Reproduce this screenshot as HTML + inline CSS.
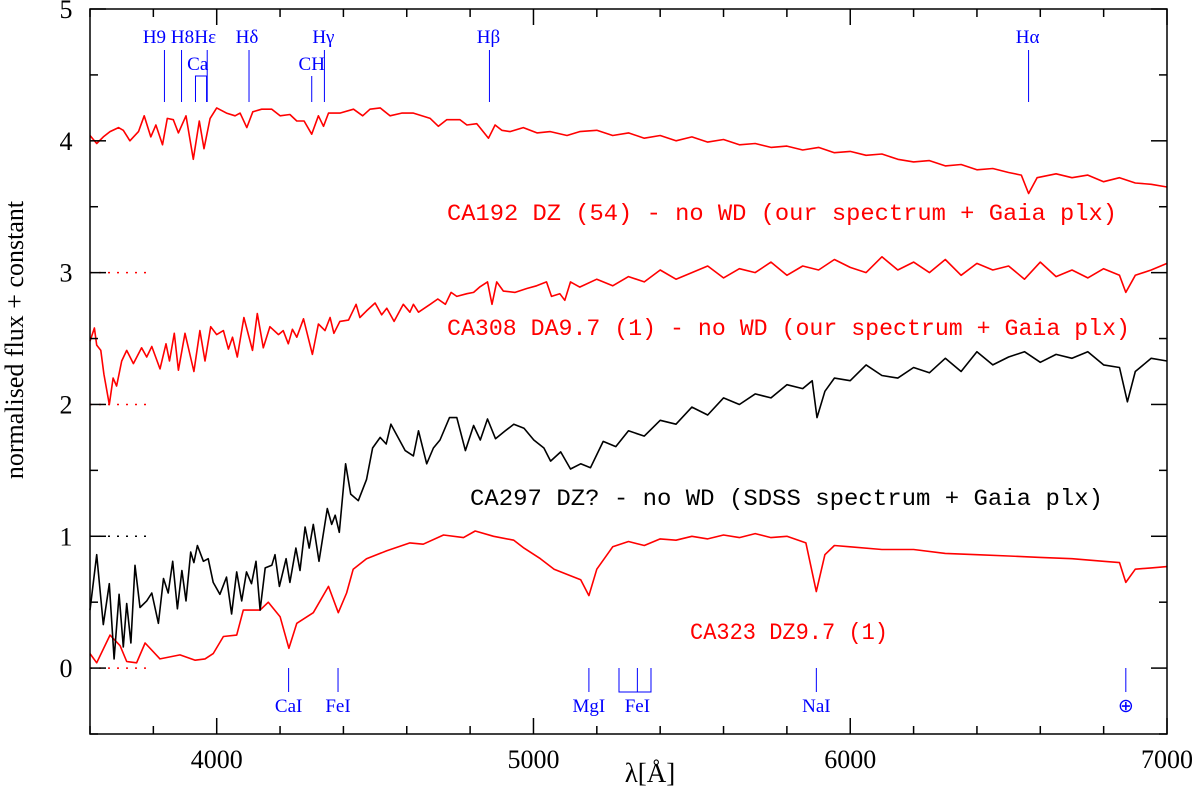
<!DOCTYPE html>
<html><head><meta charset="utf-8"><style>
body{margin:0;background:#fff}
svg{display:block}
text{font-family:"Liberation Serif",serif}
.m{font-family:"Liberation Mono",monospace}
</style></head><body>
<svg id="c" width="1200" height="790" xmlns="http://www.w3.org/2000/svg">
</svg>
<script>
const lamA=[3600,3614,3621,3634,3644,3661,3673,3684,3700,3716,3737,3763,3779,3795,3821,3840,3851,3866,3879,3900,3928,3947,3963,3981,4000,4021,4037,4050,4065,4086,4113,4128,4147,4168,4195,4210,4226,4239,4253,4274,4302,4321,4342,4358,4370,4389,4416,4440,4452,4473,4500,4521,4537,4560,4589,4610,4621,4637,4674,4698,4722,4740,4758,4790,4811,4830,4855,4869,4884,4905,4942,4979,5010,5041,5057,5083,5099,5117,5146,5200,5250,5300,5350,5400,5450,5500,5550,5600,5650,5700,5750,5800,5850,5900,5950,6000,6050,6100,6150,6200,6250,6300,6350,6400,6450,6500,6550,6600,6650,6700,6750,6800,6850,6870,6900,6950,7000];
const ca308=[2.48,2.58,2.45,2.41,2.23,2.0,2.2,2.14,2.33,2.41,2.31,2.43,2.36,2.44,2.27,2.46,2.33,2.54,2.26,2.54,2.25,2.56,2.33,2.59,2.53,2.56,2.42,2.51,2.36,2.66,2.41,2.69,2.43,2.59,2.53,2.56,2.46,2.57,2.51,2.65,2.38,2.61,2.56,2.66,2.54,2.63,2.64,2.76,2.66,2.71,2.77,2.68,2.73,2.63,2.76,2.70,2.76,2.70,2.76,2.80,2.76,2.85,2.82,2.84,2.85,2.89,2.93,2.76,2.93,2.86,2.85,2.88,2.90,2.93,2.82,2.84,2.79,2.93,2.89,2.95,2.90,2.97,2.93,3.02,2.95,3.00,3.05,2.96,3.03,3.00,3.08,2.98,3.05,3.02,3.10,3.04,3.00,3.12,3.02,3.08,3.00,3.10,2.98,3.07,3.02,3.05,2.95,3.08,2.97,3.02,2.96,3.03,2.98,2.85,2.98,3.02,3.07];
const lamB=[3600,3621,3642,3663,3690,3705,3726,3753,3771,3792,3808,3829,3844,3863,3879,3903,3926,3945,3960,3979,4000,4031,4058,4074,4095,4114,4142,4174,4200,4231,4253,4276,4300,4321,4337,4353,4389,4432,4461,4484,4516,4547,4584,4621,4674,4700,4726,4768,4790,4821,4858,4879,4900,4926,4968,5011,5053,5106,5146,5200,5250,5300,5350,5400,5450,5500,5550,5600,5650,5700,5750,5800,5850,5900,5950,6000,6050,6100,6150,6200,6250,6300,6350,6400,6450,6500,6540,6563,6590,6650,6700,6750,6800,6850,6900,6950,7000];
const ca192=[4.04,3.98,4.03,4.07,4.10,4.08,4.00,4.07,4.19,4.03,4.12,3.97,4.17,4.16,4.06,4.19,3.86,4.15,3.94,4.17,4.25,4.21,4.19,4.21,4.10,4.22,4.24,4.24,4.19,4.20,4.15,4.15,4.05,4.19,4.11,4.21,4.21,4.24,4.19,4.24,4.25,4.19,4.21,4.21,4.17,4.11,4.16,4.16,4.12,4.13,4.02,4.12,4.08,4.07,4.10,4.06,4.07,4.04,4.07,4.08,4.04,4.06,4.02,4.04,4.00,4.03,3.99,4.01,3.97,3.98,3.95,3.96,3.93,3.95,3.91,3.92,3.89,3.90,3.86,3.84,3.85,3.81,3.82,3.78,3.79,3.76,3.74,3.60,3.72,3.75,3.72,3.74,3.69,3.72,3.68,3.67,3.65];
const lamC=[3600,3621,3642,3661,3676,3692,3705,3716,3729,3742,3758,3779,3795,3816,3832,3847,3861,3876,3890,3903,3918,3928,3939,3958,3973,3989,4010,4031,4047,4063,4079,4094,4110,4124,4137,4153,4174,4184,4198,4219,4231,4250,4263,4279,4292,4305,4323,4349,4363,4374,4387,4407,4423,4447,4473,4492,4516,4535,4550,4568,4595,4621,4637,4663,4684,4705,4735,4758,4785,4811,4832,4855,4880,4911,4938,4970,5001,5033,5054,5086,5117,5149,5180,5220,5260,5300,5350,5400,5450,5500,5550,5600,5650,5700,5750,5800,5850,5880,5895,5920,5950,6000,6050,6100,6150,6200,6250,6300,6350,6400,6450,6500,6550,6600,6650,6700,6750,6800,6850,6875,6900,6950,7000];
const ca297=[0.44,0.86,0.33,0.64,0.07,0.56,0.16,0.49,0.19,0.78,0.46,0.51,0.57,0.34,0.68,0.57,0.81,0.45,0.74,0.51,0.88,0.80,0.93,0.81,0.83,0.65,0.56,0.69,0.41,0.73,0.51,0.73,0.64,0.81,0.44,0.76,0.78,0.86,0.62,0.83,0.65,0.91,0.74,1.07,0.91,1.09,0.81,1.21,1.09,1.16,1.03,1.55,1.32,1.27,1.43,1.67,1.75,1.70,1.85,1.77,1.65,1.61,1.80,1.55,1.67,1.73,1.90,1.90,1.65,1.84,1.73,1.89,1.74,1.80,1.85,1.82,1.73,1.67,1.57,1.64,1.51,1.55,1.52,1.72,1.68,1.80,1.76,1.88,1.85,1.98,1.92,2.05,2.00,2.08,2.05,2.15,2.12,2.18,1.90,2.10,2.20,2.18,2.30,2.22,2.20,2.28,2.24,2.35,2.25,2.40,2.30,2.36,2.40,2.32,2.38,2.35,2.40,2.30,2.28,2.02,2.25,2.35,2.33];
const lamD=[3600,3621,3663,3695,3716,3747,3774,3821,3884,3932,3963,3989,4021,4063,4084,4137,4163,4200,4228,4253,4305,4353,4384,4410,4431,4473,4537,4610,4652,4716,4779,4816,4874,4938,4970,5022,5065,5117,5149,5175,5200,5250,5300,5350,5400,5450,5500,5550,5600,5650,5700,5750,5800,5860,5893,5920,5950,6000,6100,6200,6300,6400,6500,6600,6700,6800,6850,6870,6900,6950,7000];
const ca323=[0.11,0.04,0.25,0.17,0.05,0.04,0.19,0.07,0.10,0.06,0.07,0.11,0.24,0.25,0.44,0.44,0.50,0.39,0.15,0.34,0.42,0.62,0.42,0.57,0.75,0.83,0.89,0.95,0.94,1.01,0.99,1.04,1.00,0.97,0.91,0.83,0.75,0.70,0.67,0.55,0.75,0.92,0.96,0.93,0.98,0.97,1.00,0.98,1.01,0.99,1.02,0.99,1.00,0.95,0.58,0.86,0.93,0.92,0.90,0.90,0.87,0.86,0.85,0.84,0.83,0.81,0.80,0.65,0.75,0.76,0.77];
const xTicks=[4000,5000,6000,7000];
const yTicks=[0,1,2,3,4,5];
const topLines=[["H9",3835,-10],["H8",3889,1],["Hε",3970,-2],["Hδ",4102,-2],["Hγ",4340,-1],["Hβ",4861,-1],["Hα",6563,-1]];
const botLines=[["CaI",4227],["FeI",4383],["MgI",5175],["NaI",5893],["⊕",6870]];

const X0=90,X1=1167,Y0=9,Y1=734,L0=3600,L1=7000,V0=-0.5,V1=5;
const sx=l=>X0+(l-L0)/(L1-L0)*(X1-X0);
const sy=v=>Y1-(v-V0)/(V1-V0)*(Y1-Y0);
const svg=document.getElementById('c');
const NS='http://www.w3.org/2000/svg';
function mk(t,a,p){const e=document.createElementNS(NS,t);for(const k in a)e.setAttribute(k,a[k]);(p||svg).appendChild(e);return e;}
function series(lam,val,col,name){
  const d=lam.map((l,i)=>(i?'L':'M')+sx(l).toFixed(1)+','+sy(val[i]).toFixed(1)).join('');
  const p=mk('path',{d:d,fill:'none',stroke:col,'stroke-width':1.6,'stroke-linejoin':'round'});
  
  
}
[[3,'red'],[2,'red'],[1,'black'],[0,'red']].forEach(z=>{
  const l=mk('line',{x1:X0,x2:151,y1:sy(z[0]),y2:sy(z[0]),stroke:z[1],'stroke-width':1.5,'stroke-dasharray':'2,7'});
  
  
});
series(lamD,ca323,'red','ca323-spectrum');
series(lamC,ca297,'black','ca297-spectrum');
series(lamA,ca308,'red','ca308-spectrum');
series(lamB,ca192,'red','ca192-spectrum');
const fr=mk('rect',{x:X0,y:Y0,width:X1-X0,height:Y1-Y0,fill:'none',stroke:'#000','stroke-width':1.5});


for(let l=3600;l<=7000;l+=200){
  const big=l%1000===0,len=big?16:8;
  mk('line',{x1:sx(l),x2:sx(l),y1:Y1,y2:Y1-len,stroke:'#000','stroke-width':1.5});
  mk('line',{x1:sx(l),x2:sx(l),y1:Y0,y2:Y0+len,stroke:'#000','stroke-width':1.5});
}
for(let v=-0.5;v<=5;v+=0.5){
  const big=Math.abs(v-Math.round(v))<1e-6,len=big?16:8;
  mk('line',{x1:X0,x2:X0+len,y1:sy(v),y2:sy(v),stroke:'#000','stroke-width':1.5});
  mk('line',{x1:X1,x2:X1-len,y1:sy(v),y2:sy(v),stroke:'#000','stroke-width':1.5});
}
xTicks.forEach(t=>{const e=mk('text',{x:sx(t),y:768,'text-anchor':'middle','font-size':26});e.textContent=t;
  });
yTicks.forEach(t=>{const e=mk('text',{x:66,y:sy(t)+9,'text-anchor':'middle','font-size':26});e.textContent=t;
  });
const xt=mk('text',{x:650,y:782,'text-anchor':'middle','font-size':27});xt.textContent='λ[Å]';

const yt=mk('text',{x:0,y:0,'text-anchor':'middle','font-size':26,transform:'translate(23,340) rotate(-90)'});yt.textContent='normalised flux + constant';

const B='#0000ff';
topLines.forEach(t=>{
  mk('line',{x1:sx(t[1]),x2:sx(t[1]),y1:50,y2:102,stroke:B,'stroke-width':1});
  const e=mk('text',{x:sx(t[1])+t[2],y:43,'text-anchor':'middle','font-size':19,fill:B});e.textContent=t[0];
  
});
mk('line',{x1:sx(4300),x2:sx(4300),y1:76,y2:102,stroke:B,'stroke-width':1});
let e=mk('text',{x:sx(4300),y:70,'text-anchor':'middle','font-size':19,fill:B});e.textContent='CH';

mk('path',{d:`M${sx(3933)},102V76H${sx(3968)}V102`,fill:'none',stroke:B,'stroke-width':1});
e=mk('text',{x:sx(3940),y:70,'text-anchor':'middle','font-size':19,fill:B});e.textContent='Ca';

botLines.forEach(t=>{
  mk('line',{x1:sx(t[1]),x2:sx(t[1]),y1:668,y2:692,stroke:B,'stroke-width':1});
  const e=mk('text',{x:sx(t[1]),y:712,'text-anchor':'middle','font-size':19,fill:B});e.textContent=t[0];
  
});
mk('path',{d:`M${sx(5270)},668V692H${sx(5371)}V668M${sx(5328)},668V692`,fill:'none',stroke:B,'stroke-width':1});
e=mk('text',{x:sx(5328),y:712,'text-anchor':'middle','font-size':19,fill:B});e.textContent='FeI';

[["CA192 DZ (54) - no WD (our spectrum + Gaia plx)",447,220,670,'red','ca192-label'],
 ["CA308 DA9.7 (1) - no WD (our spectrum + Gaia plx)",447,335,683,'red','ca308-label'],
 ["CA297 DZ? - no WD (SDSS spectrum + Gaia plx)",470,505,633,'black','ca297-label'],
 ["CA323 DZ9.7 (1)",690,639,198,'red','ca323-label']].forEach(s=>{
  const t=mk('text',{x:s[1],y:s[2],'font-size':23,fill:s[4],textLength:s[3],lengthAdjust:'spacingAndGlyphs','class':'m'});
  t.textContent=s[0];
  
  
});
</script>
</body></html>
